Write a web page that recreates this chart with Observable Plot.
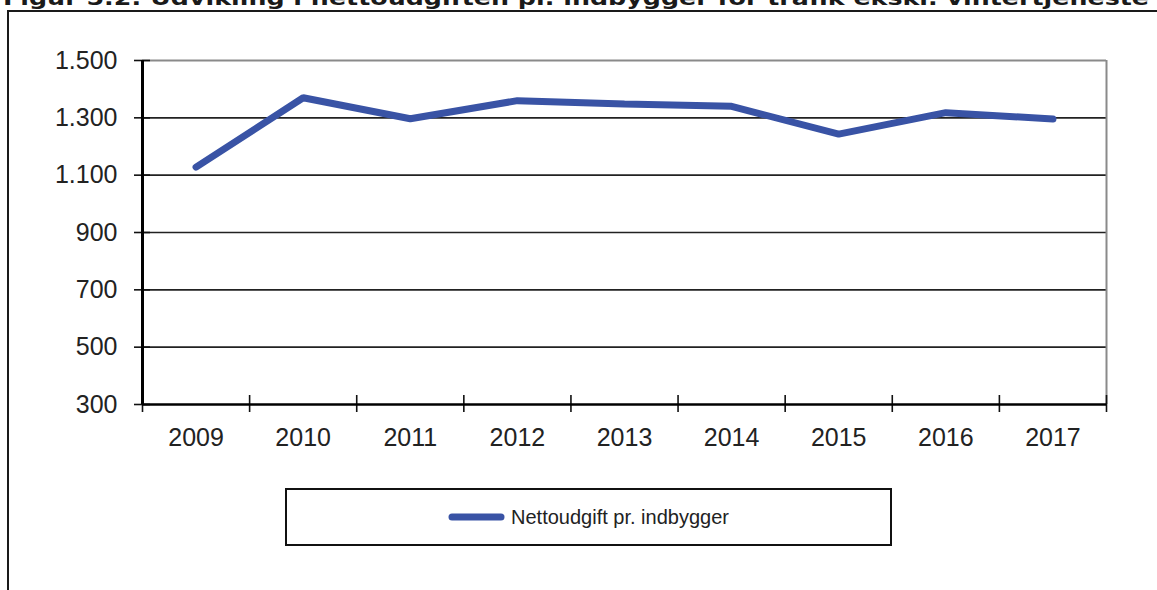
<!DOCTYPE html>
<html><head><meta charset="utf-8">
<script src="https://cdn.jsdelivr.net/npm/d3@7"></script>
<script src="https://cdn.jsdelivr.net/npm/@observablehq/plot@0.6"></script>
<style>
html,body{margin:0;padding:0;background:#fff;}
#wrap{position:relative;width:1157px;height:590px;overflow:hidden;background:#fff;}
#title{position:absolute;left:3px;top:-14px;font-family:"DejaVu Sans",sans-serif;font-weight:bold;font-size:20px;white-space:nowrap;color:#1a1a1a;transform-origin:0 0;}
#frame{position:absolute;left:7px;top:10px;width:1300px;height:800px;border-top:2px solid #1a1a1a;border-left:2px solid #1a1a1a;}
#chart{position:absolute;left:0;top:0;}
#legend{position:absolute;left:285px;top:488px;width:607px;height:58px;box-sizing:border-box;border:2px solid #111;display:flex;align-items:center;justify-content:center;font-family:"Liberation Sans",Arial,sans-serif;font-size:20px;color:#222;}
#legend svg{margin-right:6px;}
</style>
</head><body>
<div id="wrap">
  <div id="frame"></div>
  <div id="title"></div>
  <div id="chart"></div>
  <div id="legend"></div>
</div>
<script>
const titleText = "Figur 5.2: Udvikling i nettoudgiften pr. indbygger for trafik ekskl. vintertjeneste";
const seriesName = "Nettoudgift pr. indbygger";
const years = [2009, 2010, 2011, 2012, 2013, 2014, 2015, 2016, 2017];
const values = [1128, 1370, 1297, 1360, 1348, 1340, 1243, 1318, 1296];
const yTicks = [300, 500, 700, 900, 1100, 1300, 1500];
const lineColor = "#3953A5";

const data = years.map((y, i) => ({year: y, value: values[i]}));
const bounds = [years[0] - 0.5, ...years.map(y => y + 0.5)];
const xDomain = [years[0] - 0.5, years[years.length - 1] + 0.5];
const yDomain = [yTicks[0], yTicks[yTicks.length - 1]];
const fmt = d3.formatLocale({decimal: ",", thousands: ".", grouping: [3], currency: ["", ""]}).format(",");

const chart = Plot.plot({
  width: 1157,
  height: 470,
  marginLeft: 142,
  marginRight: 51,
  marginTop: 60,
  marginBottom: 66,
  style: {fontFamily: "'Liberation Sans', Arial, sans-serif", background: "transparent", color: "#222"},
  x: {type: "linear", domain: xDomain, label: null},
  y: {domain: yDomain, label: null},
  marks: [
    Plot.ruleY(yTicks.filter(t => t !== yDomain[0] && t !== yDomain[1]), {stroke: "#222", strokeWidth: 1.6}),
    Plot.ruleY([yDomain[1]], {stroke: "#8a8a8a", strokeWidth: 2}),
    Plot.ruleX([xDomain[1]], {stroke: "#8a8a8a", strokeWidth: 2}),
    Plot.ruleY(yTicks, {x1: xDomain[0], x2: xDomain[0], insetLeft: -8, insetRight: -8, stroke: "#111", strokeWidth: 1.6}),
    Plot.ruleX(bounds, {y1: yDomain[0], y2: yDomain[0], insetTop: -9, insetBottom: -8, stroke: "#111", strokeWidth: 1.6}),
    Plot.ruleX([xDomain[0]], {stroke: "#000", strokeWidth: 3}),
    Plot.ruleY([yDomain[0]], {stroke: "#000", strokeWidth: 2.6}),
    Plot.axisY({ticks: yTicks, tickSize: 0, tickPadding: 25, tickFormat: fmt, fontSize: 25, fill: "#222", label: null}),
    Plot.axisX({ticks: years, tickSize: 0, tickPadding: 24, tickFormat: d => String(d), fontSize: 25, fill: "#222", label: null}),
    Plot.line(data, {x: "year", y: "value", stroke: lineColor, strokeWidth: 7, strokeLinecap: "round", strokeLinejoin: "miter"})
  ]
});
document.getElementById("chart").appendChild(chart);

const t = document.getElementById("title");
t.textContent = titleText;
const w = t.getBoundingClientRect().width;
t.style.transform = `scaleX(${1146 / w})`;

const lg = document.getElementById("legend");
lg.innerHTML = `<svg width="57" height="10"><line x1="4" y1="5" x2="53" y2="5" stroke="${lineColor}" stroke-width="7" stroke-linecap="round"/></svg><span>${seriesName}</span>`;
</script>
</body></html>
